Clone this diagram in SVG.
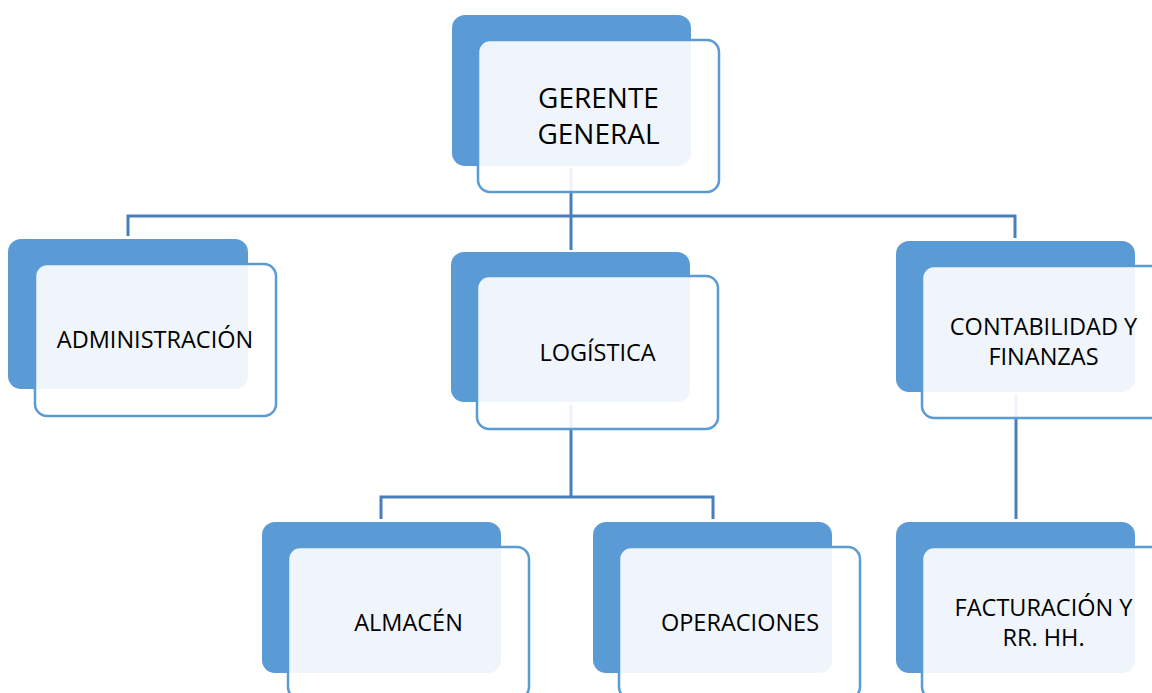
<svg xmlns="http://www.w3.org/2000/svg" width="1152" height="693" viewBox="0 0 1152 693">
<style>
.back{fill:#5b9bd5}
.front{fill:#ffffff;fill-opacity:0.9;stroke:#5b9bd5;stroke-width:2.5}
.lbl{font-family:"Open Sans","Liberation Sans",sans-serif;font-size:23.5px;fill:#000;text-anchor:middle}
.big{font-size:28px}
.conn{fill:none;stroke:#4a7ebb;stroke-width:3}
</style>
<rect width="1152" height="693" fill="#ffffff"/>
<g id="connectors">
<path class="conn" d="M571 168 V250"/>
<path class="conn" d="M128 236 V216 H1015 V238"/>
<path class="conn" d="M571 405 V497"/>
<path class="conn" d="M381 519 V497 H713 V519"/>
<path class="conn" d="M1016 395 V519"/>
</g>
<g id="gerente">
<rect class="back" x="452" y="15" width="239" height="151" rx="13"/>
<rect class="front" x="478" y="40" width="241" height="152" rx="12"/>
<text class="lbl big" x="598.5" y="108">GERENTE</text>
<text class="lbl big" x="598.5" y="144">GENERAL</text>
</g>
<g id="administracion">
<rect class="back" x="8" y="239" width="240" height="150" rx="13"/>
<rect class="front" x="35" y="264" width="241" height="152" rx="12"/>
<text class="lbl" x="155" y="348">ADMINISTRACIÓN</text>
</g>
<g id="logistica">
<rect class="back" x="451" y="252" width="239" height="150" rx="13"/>
<rect class="front" x="477" y="276" width="241" height="153" rx="12"/>
<text class="lbl" x="597.5" y="361">LOGÍSTICA</text>
</g>
<g id="contabilidad">
<rect class="back" x="896" y="241" width="239" height="151" rx="13"/>
<rect class="front" x="922" y="266" width="241" height="152" rx="12"/>
<text class="lbl" x="1043.5" y="335">CONTABILIDAD Y</text>
<text class="lbl" x="1043.5" y="365">FINANZAS</text>
</g>
<g id="almacen">
<rect class="back" x="262" y="522" width="239" height="151" rx="13"/>
<rect class="front" x="288" y="547" width="241" height="152" rx="12"/>
<text class="lbl" x="408.5" y="631">ALMACÉN</text>
</g>
<g id="operaciones">
<rect class="back" x="593" y="522" width="239" height="151" rx="13"/>
<rect class="front" x="619" y="547" width="241" height="152" rx="12"/>
<text class="lbl" x="740" y="631">OPERACIONES</text>
</g>
<g id="facturacion">
<rect class="back" x="896" y="522" width="239" height="151" rx="13"/>
<rect class="front" x="922" y="547" width="241" height="152" rx="12"/>
<text class="lbl" x="1043.5" y="616">FACTURACIÓN Y</text>
<text class="lbl" x="1043.5" y="646">RR. HH.</text>
</g>
</svg>
